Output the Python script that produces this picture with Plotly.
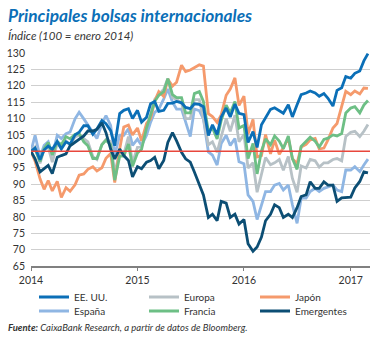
import plotly.graph_objects as go

# semi-monthly dates: 1st and 15th of each month, Jan 2014 .. Mar 2017
dates = []
for y in (2014, 2015, 2016, 2017):
    for m in range(1, 13):
        for d in (1, 15):
            dates.append(f"{y}-{m:02d}-{d:02d}")
dates = dates[:77]

eeuu = [100, 101, 97.4, 100.4, 101.6, 100.6, 103, 100.7, 102.9, 102.2, 105, 105.8,
        107.8, 107.8, 105.2, 106.8, 109.4, 108.4, 106.3, 101.7, 111.5, 112.5, 113, 110,
        112.5, 108.9, 110.4, 114.5, 115.2, 112.2, 112.5, 114.6, 114.7, 115.2, 114.8, 113.4,
        113, 114.5, 114.3, 113.6, 104.8, 108.1, 105.1, 110.5, 113.2, 110.5, 114.4, 111.6,
        111.2, 102.7, 106, 101.2, 108.1, 110.1, 112.8, 113.3, 112.5, 111.6, 114.2, 110.5,
        114.2, 117.3, 117.8, 118.4, 117.8, 116.8, 117.6, 116.2, 113.8, 118.6, 119.4, 122.8,
        122.3, 123.8, 124.5, 127.6, 129.8]

europa = [100, 101.3, 96.3, 100.7, 101.3, 96.7, 102.5, 101, 103.2, 102, 104.4, 104.9,
          103.9, 102.9, 98.4, 97.5, 102.1, 103.6, 102.9, 93.3, 100, 99.1, 104.5, 96.5,
          101.2, 101.3, 107.8, 111, 115.8, 117.4, 119, 122.2, 116.4, 115.8, 114.8, 110,
          110, 115.8, 115.8, 110, 102, 102.9, 99.7, 104.5, 110, 106.1, 111, 102.9,
          105.1, 94.9, 96.5, 87.5, 92.6, 98.1, 95.9, 96.5, 97.5, 94.2, 98.4, 91.7,
          87.5, 95.5, 94.9, 97.5, 97.1, 95.2, 96.5, 96.5, 97.5, 97.8, 97.1, 104.5,
          105.8, 106.1, 104.5, 106.1, 108.2]

japon = [100, 97, 91.6, 88.4, 91.1, 87.9, 90.8, 85.9, 88.9, 87.8, 89.8, 92.7,
         93.1, 94.5, 95.3, 94, 95, 97.9, 99.3, 90.5, 100.7, 107.4, 108, 105,
         107.1, 103.2, 108.5, 110, 115.4, 118.2, 116.8, 122, 119.9, 121.1, 126.3, 124.3,
         124.8, 125.6, 126.4, 126, 111.5, 110.6, 108.8, 111.1, 117.1, 119, 122.4, 114,
         116.8, 105.3, 109.7, 98.3, 98.7, 105.1, 99.2, 103.4, 99.1, 101.1, 104.1, 97.7,
         96.3, 101.3, 102.1, 103.5, 103.9, 100.7, 101, 103.5, 107.1, 108.5, 113.6, 118.3,
         117.3, 118.4, 117.5, 119.3, 119.2]

espana = [100, 104.9, 98.3, 101.8, 102.9, 98.8, 104.9, 103.9, 105.4, 105.9, 109.9, 111.9,
          109.9, 107.9, 105.9, 103.9, 108.4, 110.9, 107.9, 98.8, 104.9, 104.9, 106.9, 101.8,
          103.7, 101.8, 104.9, 108.9, 111.9, 112.9, 116, 119, 115, 112.9, 112.9, 108.9,
          104.5, 112.9, 112.4, 109.9, 99.8, 98.8, 95.8, 102.4, 104.9, 101.8, 103.9, 96.8,
          96.2, 86.7, 84.7, 79.2, 83.7, 87.7, 87.7, 89.7, 90.2, 88.2, 89.7, 83.7,
          78, 85.7, 85.7, 87.7, 88.7, 87.7, 88.7, 89.2, 89.7, 88.2, 87.7, 94.3,
          94.3, 95.3, 93.8, 95.8, 97.6]

francia = [100, 100.6, 96.9, 100.8, 102.7, 98.9, 102.9, 102, 104.5, 103.8, 105.2, 105.4,
           102.9, 101.7, 97.8, 97.8, 102, 103.4, 102, 91.2, 98.5, 98.5, 102.2, 95.4,
           99.5, 100.6, 107.1, 110.8, 115.2, 117.1, 118.2, 122.2, 117.3, 116.4, 116.4, 111.7,
           111.7, 117.6, 118.2, 115.2, 106.1, 107.1, 103.8, 109.4, 114.1, 111.7, 115.2, 107.1,
           107.9, 97.8, 102.4, 93.1, 100.1, 103.8, 102, 104.7, 103.1, 100.8, 104.7, 97.8,
           94.5, 101.5, 102.9, 104.3, 103.1, 101.3, 103.6, 104, 105, 104.7, 105.4, 111.7,
           113.2, 113.6, 111.7, 114.1, 115.5]

emergentes = [100, 97.7, 93.7, 94.7, 95.7, 93.2, 98.2, 98.7, 99.2, 101.7, 102.7, 103.7,
              104.7, 106.2, 106.2, 106.7, 108.7, 105.7, 100.7, 97.7, 100.7, 98.7, 97.2, 92.2,
              95.3, 94.7, 96.7, 97.2, 98.2, 94.7, 97.2, 102.7, 105.7, 103.2, 99.7, 97.7,
              96.7, 93.7, 89.7, 86.7, 79.8, 80.8, 78.8, 84.7, 84.2, 79.8, 80.8, 77.8,
              79.2, 71.8, 69.5, 70.8, 73.8, 78.8, 80.8, 83.7, 82.8, 79.8, 80.8, 79.8,
              82.8, 86.2, 86.7, 90.7, 88.7, 88.7, 90.7, 89.7, 89.7, 84.7, 85.8, 85.8,
              86, 88.8, 90.8, 93.7, 93.4]

# (name, values, color, legend slot) in drawing order bottom -> top
series = [
    ("España", espana, "#8fb6e3", "legend4"),
    ("Europa", europa, "#b7c1c6", "legend2"),
    ("Japón", japon, "#f59a6c", "legend3"),
    ("Francia", francia, "#6dbf85", "legend5"),
    ("EE. UU.", eeuu, "#0b6fb7", "legend"),
    ("Emergentes", emergentes, "#0c4e74", "legend6"),
]

FONT = "Lato"
fig = go.Figure()
for name, vals, col, leg in series:
    fig.add_trace(go.Scatter(x=dates, y=vals, mode="lines", name=name,
                             line=dict(color=col, width=2.8), legend=leg))

fig.add_shape(type="line", xref="paper", x0=0, x1=1, yref="y", y0=100, y1=100,
              line=dict(color="#e8473c", width=1.5), layer="above")

W, H = 381, 338
leg_common = dict(orientation="h", xref="container", yref="container",
                  xanchor="left", yanchor="middle",
                  font=dict(family=FONT, size=10, color="#333"),
                  bgcolor="rgba(0,0,0,0)", itemwidth=30)
slots = {"legend": (34, 297), "legend2": (144, 297), "legend3": (255, 297),
         "legend4": (34, 311), "legend5": (144, 311), "legend6": (255, 311)}
legends = {k: dict(x=px / W, y=1 - py / H, **leg_common) for k, (px, py) in slots.items()}

fig.update_layout(
    width=W, height=H,
    margin=dict(l=31, r=11, t=53, b=72, autoexpand=False),
    paper_bgcolor="white", plot_bgcolor="white",
    font=dict(family=FONT, size=10, color="#333"),
    showlegend=True,
    xaxis=dict(type="date", range=["2014-01-01", "2017-03-08"],
               tickvals=["2014-01-01", "2015-01-01", "2016-01-01", "2017-01-01"],
               ticktext=["2014", "2015", "2016", "2017"],
               showgrid=False, zeroline=False, showline=True, linecolor="#808080",
               linewidth=2, ticks="outside", ticklen=3, tickcolor="#808080",
               tickfont=dict(family=FONT, size=10.5, color="#333")),
    yaxis=dict(range=[65, 130], tick0=65, dtick=5, showgrid=True,
               gridcolor="#cfcfcf", gridwidth=1, zeroline=False, showline=False,
               ticks="", ticklabelstandoff=5,
               tickfont=dict(family=FONT, size=10.5, color="#333")),
    **legends,
)

fig.add_annotation(xref="paper", yref="paper", x=(6 - 31) / 339, y=(266 - 16) / 213,
                   xanchor="left", yanchor="middle", showarrow=False,
                   text="<b><i>Principales bolsas internacionales</i></b>",
                   font=dict(family=FONT, size=17.3, color="#0b6fb7"))
fig.add_annotation(xref="paper", yref="paper", x=(6 - 31) / 339, y=(266 - 36) / 213,
                   xanchor="left", yanchor="middle", showarrow=False,
                   text="<i>Índice (100 = enero 2014)</i>",
                   font=dict(family=FONT, size=11.5, color="#333"))
fig.add_annotation(xref="paper", yref="paper", x=(6 - 31) / 339, y=(266 - 327) / 213,
                   xanchor="left", yanchor="middle", showarrow=False,
                   text="<b><i>Fuente:</i></b><i> CaixaBank Research, a partir de datos de Bloomberg.</i>",
                   font=dict(family=FONT, size=9.5, color="#333"))

fig.write_html("out.html")
